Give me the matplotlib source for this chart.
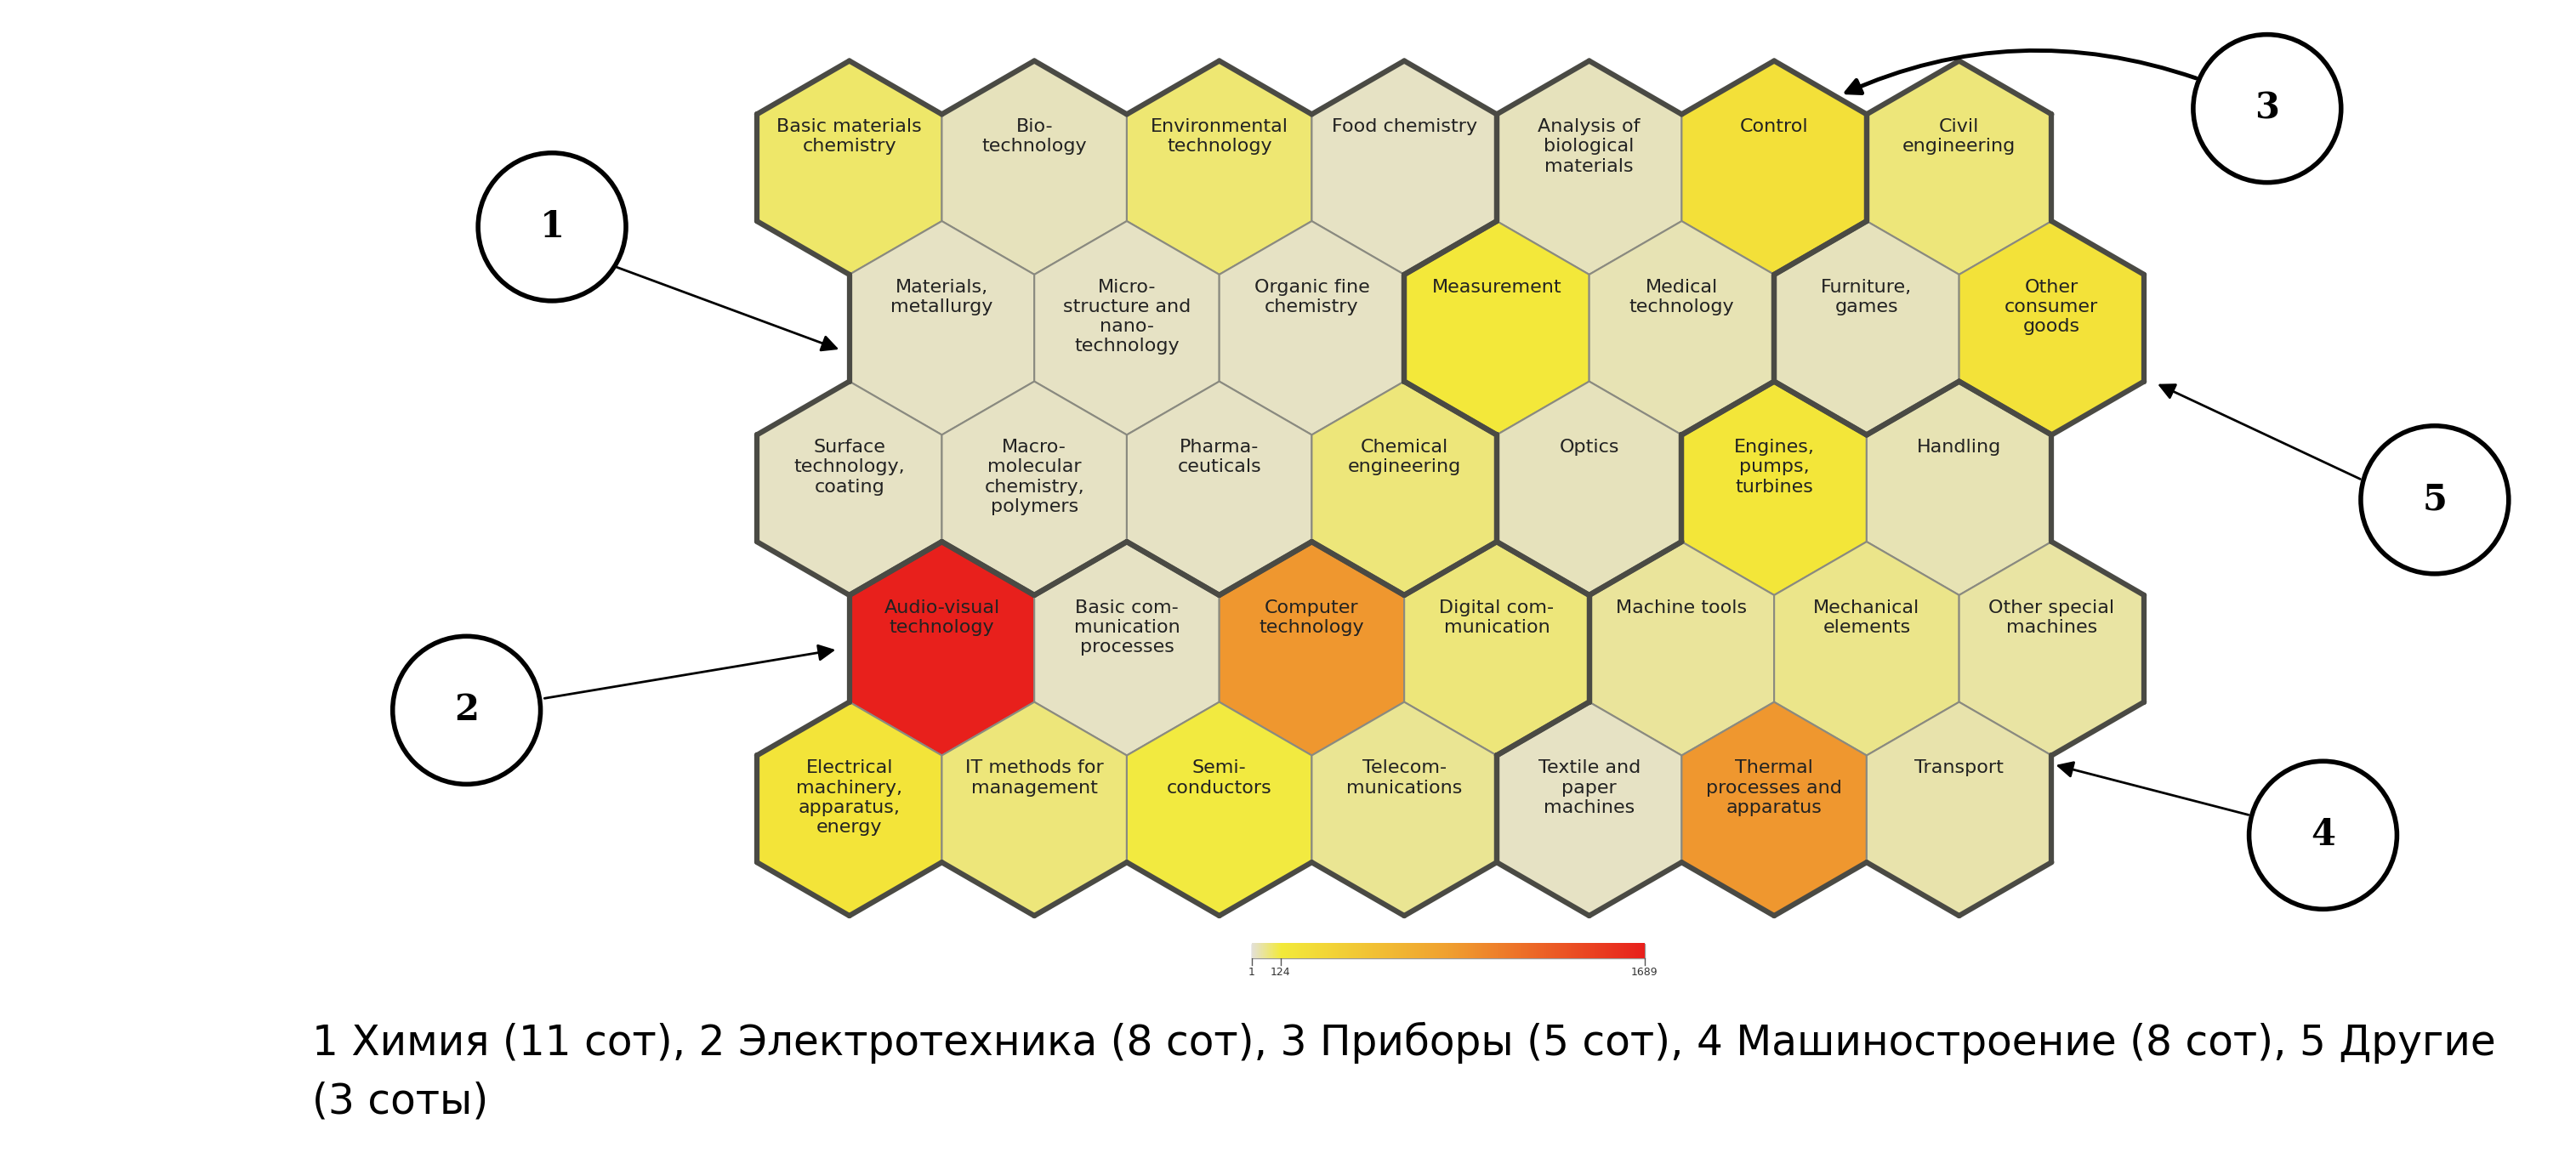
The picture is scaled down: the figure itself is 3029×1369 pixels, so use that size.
import numpy as np
import matplotlib
matplotlib.use("Agg")
import matplotlib.pyplot as plt
from matplotlib.colors import LinearSegmentedColormap, Normalize
from matplotlib.patches import Polygon, Circle, FancyArrowPatch

labels = [
 ["Basic materials\nchemistry","Bio-\ntechnology","Environmental\ntechnology","Food chemistry","Analysis of\nbiological\nmaterials","Control","Civil\nengineering"],
 ["Materials,\nmetallurgy","Micro-\nstructure and\nnano-\ntechnology","Organic fine\nchemistry","Measurement","Medical\ntechnology","Furniture,\ngames","Other\nconsumer\ngoods"],
 ["Surface\ntechnology,\ncoating","Macro-\nmolecular\nchemistry,\npolymers","Pharma-\nceuticals","Chemical\nengineering","Optics","Engines,\npumps,\nturbines","Handling"],
 ["Audio-visual\ntechnology","Basic com-\nmunication\nprocesses","Computer\ntechnology","Digital com-\nmunication","Machine tools","Mechanical\nelements","Other special\nmachines"],
 ["Electrical\nmachinery,\napparatus,\nenergy","IT methods for\nmanagement","Semi-\nconductors","Telecom-\nmunications","Textile and\npaper\nmachines","Thermal\nprocesses and\napparatus","Transport"],
]
groups = [
 [1,1,1,1,3,3,5],
 [1,1,1,3,3,5,5],
 [1,1,1,1,3,4,4],
 [2,2,2,2,4,4,4],
 [2,2,2,2,4,4,4],
]
values = [
 [90,25,85,20,25,230,75],
 [20,18,20,140,30,25,200],
 [20,20,20,80,25,170,30],
 [1689,20,900,75,50,65,45],
 [180,75,120,60,15,900,40],
]
captions = ["1 Химия (11 сот), 2 Электротехника (8 сот), 3 Приборы (5 сот), 4 Машиностроение (8 сот), 5 Другие",
            "(3 соты)"]
cbar_ticks = [1, 124, 1689]

W, H = 1568, 708
fig = plt.figure(figsize=(30.29, 13.69), dpi=100)
ax = fig.add_axes([0, 0, 1, 1])
ax.set_xlim(0, W); ax.set_ylim(H, 0); ax.axis("off")

vmax = 1689
cmap = LinearSegmentedColormap.from_list("c", [(0, "#e4e1d5"), (124/vmax, "#f3ea3a"), (0.5, "#f0a030"), (1, "#e8201c")])
norm = Normalize(1, vmax)

R = 65.0
dx = R*np.sqrt(3)
dy = 97.5
x0, y0 = 517, 102
angs = np.deg2rad([90, 30, -30, -90, -150, 150])

def center(r, c):
    return x0 + c*dx + (dx/2 if r % 2 else 0), y0 + r*dy

def verts(r, c):
    cx, cy = center(r, c)
    return [(cx + R*np.cos(a), cy - R*np.sin(a)) for a in angs]

def nb(r, c, k):
    odd = r % 2
    if k == 0: return (r-1, c+odd)
    if k == 1: return (r, c+1)
    if k == 2: return (r+1, c+odd)
    if k == 3: return (r+1, c-1+odd)
    if k == 4: return (r, c-1)
    return (r-1, c-1+odd)

for r in range(5):
    for c in range(7):
        v = verts(r, c)
        ax.add_patch(Polygon(v, closed=True, fc=cmap(norm(values[r][c])), ec="#8a8a80", lw=1.5))
        cx, cy = center(r, c)
        ax.text(cx, cy - 30, labels[r][c], ha="center", va="top", fontsize=16, color="#222", linespacing=1.2)
for r in range(5):
    for c in range(7):
        v = verts(r, c)
        for k in range(6):
            nr, nc = nb(r, c, k)
            if 0 <= nr < 5 and 0 <= nc < 7 and groups[nr][nc] == groups[r][c]:
                continue
            a, b = v[k], v[(k+1) % 6]
            ax.plot([a[0], b[0]], [a[1], b[1]], color="#4a4a44", lw=4.5, solid_capstyle="round")

# colorbar
cx0, cx1, cy0, cy1 = 762, 1001, 574, 583
grad = np.linspace(0, 1, 256).reshape(1, -1)
ax.imshow(grad, cmap=cmap, extent=(cx0, cx1, cy1, cy0), aspect="auto", zorder=3)
ax.add_patch(plt.Rectangle((cx0, cy0), cx1-cx0, cy1-cy0, fill=False, ec="#999", lw=1))
for t in cbar_ticks:
    x = cx0 + (t-1)/(vmax-1)*(cx1-cx0)
    ax.plot([x, x], [cy1, cy1+4], color="#555", lw=1)
    ax.text(x, cy1+5, str(t), ha="center", va="top", fontsize=9, color="#333")

# circles and arrows
circles = [("1", 336, 138), ("2", 284, 432), ("3", 1380, 66), ("4", 1414, 508), ("5", 1482, 304)]
for t, x, y in circles:
    ax.add_patch(Circle((x, y), 45, fc="white", ec="black", lw=4, zorder=5))
    ax.text(x, y, t, ha="center", va="center", fontsize=30, fontweight="bold", family="DejaVu Serif", zorder=6)
arrows = [((374, 162), (512, 213), 0), ((330, 425), (510, 395), 0), ((1338, 48), (1120, 58), 0.2),
          ((1370, 496), (1250, 465), 0), ((1438, 292), (1312, 233), 0)]
for s, e, rad in arrows:
    ax.add_patch(FancyArrowPatch(s, e, connectionstyle=f"arc3,rad={rad}", arrowstyle="-|>,head_length=12,head_width=6",
                                 color="black", lw=2 if rad == 0 else 3.5, zorder=4))

ax.text(190, 634, captions[0], ha="left", va="center", fontsize=35)
ax.text(190, 670, captions[1], ha="left", va="center", fontsize=35)

fig.savefig("out.png", dpi=100, facecolor="white")
